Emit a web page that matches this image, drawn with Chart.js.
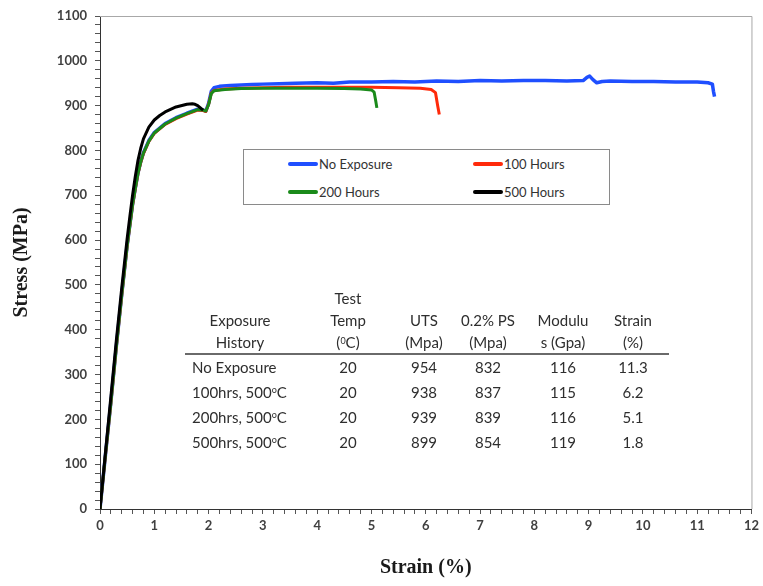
<!DOCTYPE html>
<html><head><meta charset="utf-8">
<script src="https://cdn.jsdelivr.net/npm/chart.js@4.4.1/dist/chart.umd.min.js"></script>
<style>
html,body{margin:0;padding:0;background:#fff;}
#wrap{position:relative;width:763px;height:586px;overflow:hidden;}
#c{position:absolute;left:0;top:0;}
#legend{position:absolute;left:243px;top:149px;width:367px;height:56px;border:1px solid #8a8a8a;box-sizing:border-box;font-family:Lato,sans-serif;font-size:13px;color:#333;background:#fff;}
.item{position:absolute;display:flex;align-items:center;height:16px;}
.sw{width:30px;height:4px;border-radius:2px;margin-right:1px;}
#tbl{position:absolute;left:185px;top:287px;width:484px;font-family:Lato,sans-serif;font-size:15px;color:#2e2e2e;}
.hrow{display:flex;height:66px;border-bottom:2px solid #6a6a6a;}
.hc{display:flex;flex-direction:column;justify-content:flex-end;align-items:center;line-height:22px;text-align:center;}
.drow{display:flex;height:25px;line-height:25px;}
.dc{text-align:center;}
.dc.first{text-align:left;padding-left:7px;box-sizing:border-box;}
sup{font-size:9px;vertical-align:top;line-height:9px;position:relative;top:5px;}
</style></head>
<body>
<div id="wrap">
<canvas id="c" width="763" height="586"></canvas>
<div id="legend"></div>
<div id="tbl"></div>
</div>
<script>
// ---- Data ----
const seriesNames = ['No Exposure', '100 Hours', '200 Hours', '500 Hours'];
const seriesColors = ['#1f4fff', '#ff2a0a', '#1a8a1a', '#000000'];

const noExposureStrain = [0,0.1,0.2,0.3,0.4,0.5,0.6,0.65,0.7,0.75,0.8,0.9,1.0,1.2,1.4,1.6,1.8,1.9,1.95,2.0,2.05,2.1,2.2,2.4,2.6,2.8,3.0,3.3,3.6,4.0,4.3,4.6,5.0,5.4,5.8,6.2,6.6,7.0,7.4,7.8,8.2,8.6,8.9,8.97,9.02,9.08,9.15,9.25,9.4,9.8,10.2,10.6,11.0,11.2,11.28,11.3,11.32];
const noExposureStress = [0,120,238,362,478,588,680,716,750,775,795,822,840,860,873,883,892,890,888,905,932,940,943,945,946,947,948,949,950,951,950,953,953,954,953,955,954,956,955,956,956,955,956,963,966,958,951,954,955,954,954,953,953,951,948,932,920];

const h100Strain = [0,0.1,0.2,0.3,0.4,0.5,0.6,0.65,0.7,0.75,0.8,0.9,1.0,1.2,1.4,1.6,1.8,1.9,1.95,2.0,2.05,2.1,2.3,2.6,3.0,3.5,4.0,4.5,5.0,5.5,5.9,6.1,6.18,6.22,6.25];
const h100Stress = [0,119,236,360,476,586,678,714,748,773,793,820,838,858,871,881,890,889,887,903,928,934,937,939,940,941,941,941,941,940,939,936,929,900,880];

const h200Strain = [0,0.1,0.2,0.3,0.4,0.5,0.6,0.65,0.7,0.75,0.8,0.9,1.0,1.2,1.4,1.6,1.8,1.9,1.95,2.0,2.05,2.1,2.3,2.6,3.0,3.5,4.0,4.5,4.8,5.0,5.05,5.08,5.1];
const h200Stress = [0,120,237,361,477,587,679,715,749,774,794,821,839,859,872,882,891,890,888,902,927,933,936,938,939,939,939,938,937,935,930,910,895];

const h500Strain = [0,0.1,0.2,0.3,0.4,0.5,0.55,0.6,0.65,0.7,0.75,0.8,0.9,1.0,1.1,1.2,1.4,1.6,1.7,1.75,1.8,1.85,1.9];
const h500Stress = [0,125,250,375,493,603,653,700,742,778,805,826,852,868,878,886,897,903,904,903,900,895,890];

const xTickValues = [0,1,2,3,4,5,6,7,8,9,10,11,12];
const yTickValues = [0,100,200,300,400,500,600,700,800,900,1000,1100];

// Table
const tableHeaders = [['Exposure','History'], ['Test','Temp','(<sup>0</sup>C)'], ['UTS','(Mpa)'], ['0.2% PS','(Mpa)'], ['Modulu','s (Gpa)'], ['Strain','(%)']];
const exposureHistory = ['No Exposure', '100hrs, 500<sup>o</sup>C', '200hrs, 500<sup>o</sup>C', '500hrs, 500<sup>o</sup>C'];
const testTemp = [20, 20, 20, 20];
const uts = [954, 938, 939, 899];
const proofStress = [832, 837, 839, 854];
const modulus = [116, 115, 116, 119];
const strainPct = ['11.3', '6.2', '5.1', '1.8'];

// ---- Build ----
const colWidths = [110, 106, 46, 82, 68, 72];
const pts = (xs, ys) => xs.map((x, i) => ({x, y: ys[i]}));
const strains = [noExposureStrain, h100Strain, h200Strain, h500Strain];
const stresses = [noExposureStress, h100Stress, h200Stress, h500Stress];
const orders = [3, 2, 1, 0];
const widths = [3.5, 3, 3, 3];

const datasets = seriesNames.map((n, i) => ({
  label: n,
  data: pts(strains[i], stresses[i]),
  borderColor: seriesColors[i],
  backgroundColor: seriesColors[i],
  borderWidth: widths[i],
  pointRadius: 0,
  tension: 0,
  fill: false,
  order: orders[i],
  borderJoinStyle: 'round'
}));

const isOn = (v, list) => list.some(t => Math.abs(t - v) < 1e-6);

const framePlugin = {
  id: 'frame',
  beforeDatasetsDraw(chart) {
    const {ctx, chartArea: a} = chart;
    ctx.save();
    ctx.strokeStyle = '#a8a8a8';
    ctx.lineWidth = 1;
    ctx.beginPath();
    ctx.moveTo(a.left, a.top + 0.5);
    ctx.lineTo(a.right + 0.5, a.top + 0.5);
    ctx.lineTo(a.right + 0.5, a.bottom);
    ctx.stroke();
    ctx.restore();
  }
};

new Chart(document.getElementById('c'), {
  type: 'line',
  data: { datasets },
  plugins: [framePlugin],
  options: {
    responsive: false,
    animation: false,
    layout: { padding: { top: 16, right: 11, left: 0, bottom: 0 } },
    plugins: { legend: { display: false }, tooltip: { enabled: false } },
    scales: {
      x: {
        type: 'linear', min: 0, max: 12,
        afterFit: s => { s.height = 77; },
        ticks: {
          stepSize: 0.2, autoSkip: false, maxRotation: 0, padding: 4,
          callback: v => isOn(v, xTickValues) ? String(Math.round(v)) : '',
          font: { family: 'Lato', size: 13, weight: 'bold' }, color: '#404040'
        },
        grid: { drawOnChartArea: false, drawTicks: true, tickLength: 5, tickColor: '#555' },
        border: { display: true, color: '#333', width: 1 },
        title: { display: true, text: 'Strain (%)', padding: { top: 0, bottom: 6 },
          font: { family: 'Liberation Serif', size: 20, weight: 'bold' }, color: '#1a1a1a' }
      },
      y: {
        type: 'linear', min: 0, max: 1100,
        afterFit: s => { s.width = 100; },
        ticks: {
          stepSize: 20, autoSkip: false, padding: 8,
          callback: v => isOn(v, yTickValues) ? String(Math.round(v)) : '',
          font: { family: 'Lato', size: 13, weight: 'bold' }, color: '#404040'
        },
        grid: { drawOnChartArea: false, drawTicks: true, tickLength: 5, tickColor: '#555' },
        border: { display: true, color: '#333', width: 1 },
        title: { display: true, text: 'Stress (MPa)', padding: { top: 10, bottom: 0 },
          font: { family: 'Liberation Serif', size: 20, weight: 'bold' }, color: '#1a1a1a' }
      }
    }
  }
});

// HTML legend
const legend = document.getElementById('legend');
const legendPos = [[44, 6], [229, 6], [44, 34], [229, 34]];
seriesNames.forEach((n, i) => {
  const d = document.createElement('div');
  d.className = 'item';
  d.style.left = legendPos[i][0] + 'px';
  d.style.top = legendPos[i][1] + 'px';
  d.innerHTML = '<span class="sw" style="background:' + seriesColors[i] + '"></span><span>' + n + '</span>';
  legend.appendChild(d);
});

// HTML table
const tbl = document.getElementById('tbl');
let html = '<div class="hrow">';
tableHeaders.forEach((h, j) => {
  html += '<div class="hc" style="width:' + colWidths[j] + 'px">' + h.map(t => '<div>' + t + '</div>').join('') + '</div>';
});
html += '</div>';
exposureHistory.forEach((e, i) => {
  const cells = [e, testTemp[i], uts[i], proofStress[i], modulus[i], strainPct[i]];
  html += '<div class="drow">' + cells.map((c, j) => '<div class="dc' + (j === 0 ? ' first' : '') + '" style="width:' + colWidths[j] + 'px">' + c + '</div>').join('') + '</div>';
});
tbl.innerHTML = html;
</script>
</body></html>
